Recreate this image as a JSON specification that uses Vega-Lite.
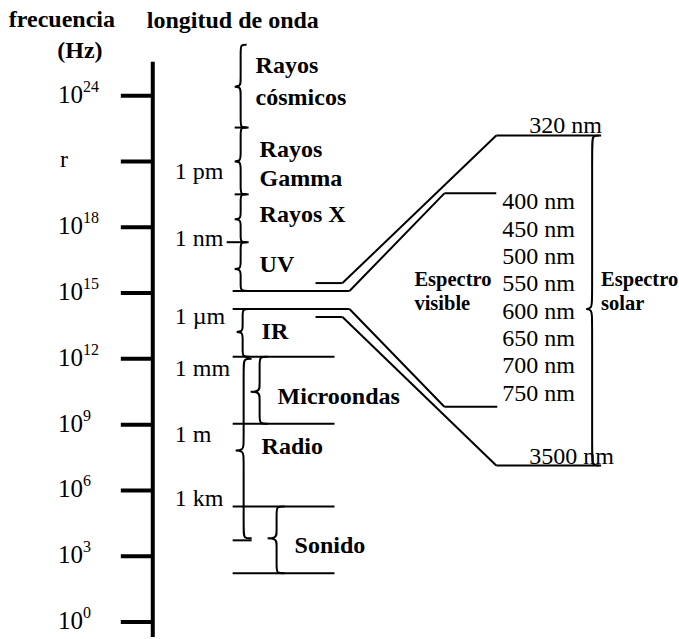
{
  "$schema": "https://vega.github.io/schema/vega-lite/v6.json",
  "width": 679,
  "height": 639,
  "padding": 0,
  "autosize": {"type": "fit", "contains": "padding"},
  "background": "white",
  "config": {"view": {"stroke": null}},
  "datasets": {
    "axisline": [
      {"x": 153, "y": 25.545, "x2": 153, "y2": -0.68}
    ],
    "ticks": [
      {"exp": 24, "x": 121, "x2": 153},
      {"exp": 21, "x": 121, "x2": 153},
      {"exp": 18, "x": 121, "x2": 153},
      {"exp": 15, "x": 121, "x2": 153},
      {"exp": 12, "x": 121, "x2": 153},
      {"exp": 9, "x": 121, "x2": 153},
      {"exp": 6, "x": 121, "x2": 153},
      {"exp": 3, "x": 121, "x2": 153},
      {"exp": 0, "x": 121, "x2": 153}
    ],
    "freqlabels": [
      {"exp": 24, "base": "10", "sup": "24"},
      {"exp": 18, "base": "10", "sup": "18"},
      {"exp": 15, "base": "10", "sup": "15"},
      {"exp": 12, "base": "10", "sup": "12"},
      {"exp": 9, "base": "10", "sup": "9"},
      {"exp": 6, "base": "10", "sup": "6"},
      {"exp": 3, "base": "10", "sup": "3"},
      {"exp": 0, "base": "10", "sup": "0"}
    ],
    "segments": [
      {"x": 233, "y": 15.091, "x2": 350, "y2": 15.091},
      {"x": 233, "y": 14.273, "x2": 350, "y2": 14.273},
      {"x": 233, "y": 12.091, "x2": 335, "y2": 12.091},
      {"x": 233, "y": 9.045, "x2": 335, "y2": 9.045},
      {"x": 233, "y": 5.273, "x2": 335, "y2": 5.273},
      {"x": 233, "y": 3.727, "x2": 252, "y2": 3.727},
      {"x": 233, "y": 2.227, "x2": 335, "y2": 2.227},
      {"x": 235, "y": 22.545, "x2": 249, "y2": 22.545},
      {"x": 235, "y": 19.5, "x2": 249, "y2": 19.5},
      {"x": 227, "y": 17.318, "x2": 249, "y2": 17.318},
      {"x": 497, "y": 22.182, "x2": 602, "y2": 22.182},
      {"x": 497, "y": 22.182, "x2": 343, "y2": 15.455},
      {"x": 316, "y": 15.455, "x2": 343, "y2": 15.455},
      {"x": 445, "y": 19.545, "x2": 497, "y2": 19.545},
      {"x": 350, "y": 15.091, "x2": 445, "y2": 19.545},
      {"x": 316, "y": 13.909, "x2": 343, "y2": 13.909},
      {"x": 343, "y": 13.909, "x2": 497, "y2": 7.136},
      {"x": 497, "y": 7.136, "x2": 602, "y2": 7.136},
      {"x": 350, "y": 14.273, "x2": 445, "y2": 9.818},
      {"x": 445, "y": 9.818, "x2": 498, "y2": 9.818}
    ],
    "braces": [
      {"b": "cos", "i": 0, "x": 247, "y": 26.318},
      {"b": "cos", "i": 1, "x": 241, "y": 26.318},
      {"b": "cos", "i": 2, "x": 241, "y": 26.045},
      {"b": "cos", "i": 3, "x": 241, "y": 24.682},
      {"b": "cos", "i": 4, "x": 241, "y": 24.409},
      {"b": "cos", "i": 5, "x": 232, "y": 24.409},
      {"b": "cos", "i": 6, "x": 241, "y": 24.409},
      {"b": "cos", "i": 7, "x": 241, "y": 24.136},
      {"b": "cos", "i": 8, "x": 241, "y": 22.818},
      {"b": "cos", "i": 9, "x": 241, "y": 22.545},
      {"b": "cos", "i": 10, "x": 247, "y": 22.545},

      {"b": "gam", "i": 0, "x": 247, "y": 22.545},
      {"b": "gam", "i": 1, "x": 241, "y": 22.545},
      {"b": "gam", "i": 2, "x": 241, "y": 22.273},
      {"b": "gam", "i": 3, "x": 241, "y": 21.273},
      {"b": "gam", "i": 4, "x": 241, "y": 21.0},
      {"b": "gam", "i": 5, "x": 232, "y": 21.0},
      {"b": "gam", "i": 6, "x": 241, "y": 21.0},
      {"b": "gam", "i": 7, "x": 241, "y": 20.727},
      {"b": "gam", "i": 8, "x": 241, "y": 19.773},
      {"b": "gam", "i": 9, "x": 241, "y": 19.5},
      {"b": "gam", "i": 10, "x": 247, "y": 19.5},

      {"b": "xr", "i": 0, "x": 247, "y": 19.5},
      {"b": "xr", "i": 1, "x": 241, "y": 19.5},
      {"b": "xr", "i": 2, "x": 241, "y": 19.227},
      {"b": "xr", "i": 3, "x": 241, "y": 18.636},
      {"b": "xr", "i": 4, "x": 241, "y": 18.364},
      {"b": "xr", "i": 5, "x": 232, "y": 18.364},
      {"b": "xr", "i": 6, "x": 241, "y": 18.364},
      {"b": "xr", "i": 7, "x": 241, "y": 18.091},
      {"b": "xr", "i": 8, "x": 241, "y": 17.591},
      {"b": "xr", "i": 9, "x": 241, "y": 17.318},
      {"b": "xr", "i": 10, "x": 247, "y": 17.318},

      {"b": "uv", "i": 0, "x": 247, "y": 17.318},
      {"b": "uv", "i": 1, "x": 241, "y": 17.318},
      {"b": "uv", "i": 2, "x": 241, "y": 17.045},
      {"b": "uv", "i": 3, "x": 241, "y": 16.364},
      {"b": "uv", "i": 4, "x": 241, "y": 16.091},
      {"b": "uv", "i": 5, "x": 232, "y": 16.091},
      {"b": "uv", "i": 6, "x": 241, "y": 16.091},
      {"b": "uv", "i": 7, "x": 241, "y": 15.818},
      {"b": "uv", "i": 8, "x": 241, "y": 15.364},
      {"b": "uv", "i": 9, "x": 241, "y": 15.091},
      {"b": "uv", "i": 10, "x": 250, "y": 15.091},

      {"b": "ir", "i": 0, "x": 250, "y": 14.273},
      {"b": "ir", "i": 1, "x": 243, "y": 14.273},
      {"b": "ir", "i": 2, "x": 243, "y": 14.0},
      {"b": "ir", "i": 3, "x": 243, "y": 13.5},
      {"b": "ir", "i": 4, "x": 243, "y": 13.227},
      {"b": "ir", "i": 5, "x": 234, "y": 13.227},
      {"b": "ir", "i": 6, "x": 243, "y": 13.227},
      {"b": "ir", "i": 7, "x": 243, "y": 12.955},
      {"b": "ir", "i": 8, "x": 243, "y": 12.364},
      {"b": "ir", "i": 9, "x": 243, "y": 12.091},
      {"b": "ir", "i": 10, "x": 250, "y": 12.091},

      {"b": "mic", "i": 0, "x": 268, "y": 12.091},
      {"b": "mic", "i": 1, "x": 260, "y": 12.091},
      {"b": "mic", "i": 2, "x": 260, "y": 11.818},
      {"b": "mic", "i": 3, "x": 260, "y": 10.773},
      {"b": "mic", "i": 4, "x": 260, "y": 10.5},
      {"b": "mic", "i": 5, "x": 246.5, "y": 10.5},
      {"b": "mic", "i": 6, "x": 260, "y": 10.5},
      {"b": "mic", "i": 7, "x": 260, "y": 10.227},
      {"b": "mic", "i": 8, "x": 260, "y": 9.318},
      {"b": "mic", "i": 9, "x": 260, "y": 9.045},
      {"b": "mic", "i": 10, "x": 268, "y": 9.045},

      {"b": "rad", "i": 0, "x": 252, "y": 12.0},
      {"b": "rad", "i": 1, "x": 244, "y": 12.0},
      {"b": "rad", "i": 2, "x": 244, "y": 11.682},
      {"b": "rad", "i": 3, "x": 244, "y": 8.136},
      {"b": "rad", "i": 4, "x": 244, "y": 7.818},
      {"b": "rad", "i": 5, "x": 232, "y": 7.818},
      {"b": "rad", "i": 6, "x": 244, "y": 7.818},
      {"b": "rad", "i": 7, "x": 244, "y": 7.5},
      {"b": "rad", "i": 8, "x": 244, "y": 4.136},
      {"b": "rad", "i": 9, "x": 244, "y": 3.818},
      {"b": "rad", "i": 10, "x": 252, "y": 3.818},

      {"b": "son", "i": 0, "x": 285, "y": 5.273},
      {"b": "son", "i": 1, "x": 277, "y": 5.273},
      {"b": "son", "i": 2, "x": 277, "y": 5.0},
      {"b": "son", "i": 3, "x": 277, "y": 4.091},
      {"b": "son", "i": 4, "x": 277, "y": 3.818},
      {"b": "son", "i": 5, "x": 263.5, "y": 3.818},
      {"b": "son", "i": 6, "x": 277, "y": 3.818},
      {"b": "son", "i": 7, "x": 277, "y": 3.545},
      {"b": "son", "i": 8, "x": 277, "y": 2.5},
      {"b": "son", "i": 9, "x": 277, "y": 2.227},
      {"b": "son", "i": 10, "x": 285, "y": 2.227},

      {"b": "sol", "i": 0, "x": 600, "y": 22.182},
      {"b": "sol", "i": 1, "x": 593, "y": 22.182},
      {"b": "sol", "i": 2, "x": 593, "y": 21.727},
      {"b": "sol", "i": 3, "x": 593, "y": 14.727},
      {"b": "sol", "i": 4, "x": 593, "y": 14.273},
      {"b": "sol", "i": 5, "x": 584, "y": 14.273},
      {"b": "sol", "i": 6, "x": 593, "y": 14.273},
      {"b": "sol", "i": 7, "x": 593, "y": 13.818},
      {"b": "sol", "i": 8, "x": 593, "y": 7.591},
      {"b": "sol", "i": 9, "x": 593, "y": 7.136},
      {"b": "sol", "i": 10, "x": 600, "y": 7.136}
    ],
    "regular": [
      {"t": "r", "x": 60, "y": 20.727},
      {"t": "1 pm", "x": 175, "y": 20.182},
      {"t": "1 nm", "x": 175, "y": 17.136},
      {"t": "1 µm", "x": 175, "y": 13.591},
      {"t": "1 mm", "x": 175, "y": 11.227},
      {"t": "1 m", "x": 175, "y": 8.227},
      {"t": "1 km", "x": 175, "y": 5.273},
      {"t": "320 nm", "x": 530, "y": 22.318},
      {"t": "400 nm", "x": 503, "y": 18.818},
      {"t": "450 nm", "x": 503, "y": 17.573},
      {"t": "500 nm", "x": 503, "y": 16.327},
      {"t": "550 nm", "x": 503, "y": 15.082},
      {"t": "600 nm", "x": 503, "y": 13.836},
      {"t": "650 nm", "x": 503, "y": 12.591},
      {"t": "700 nm", "x": 503, "y": 11.345},
      {"t": "750 nm", "x": 503, "y": 10.1},
      {"t": "3500 nm", "x": 530, "y": 7.227}
    ],
    "headers": [
      {"t": "frecuencia", "x": 62, "y": 27.136},
      {"t": "(Hz)", "x": 80, "y": 25.727}
    ],
    "bold": [
      {"t": "longitud de onda", "x": 147, "y": 27.091},
      {"t": "Rayos", "x": 256, "y": 25.045},
      {"t": "cósmicos", "x": 256, "y": 23.591},
      {"t": "Rayos", "x": 260, "y": 21.182},
      {"t": "Gamma", "x": 260, "y": 19.864},
      {"t": "Rayos X", "x": 260, "y": 18.227},
      {"t": "UV", "x": 260, "y": 15.955},
      {"t": "IR", "x": 262, "y": 12.909},
      {"t": "Microondas", "x": 278, "y": 9.955},
      {"t": "Radio", "x": 262, "y": 7.682},
      {"t": "Sonido", "x": 295, "y": 3.136}
    ],
    "smallbold": [
      {"t": "Espectro", "x": 415, "y": 15.318},
      {"t": "visible", "x": 415, "y": 14.227},
      {"t": "Espectro", "x": 602, "y": 15.318},
      {"t": "solar", "x": 602, "y": 14.227}
    ]
  },
  "layer": [
    {
      "data": {"name": "axisline"},
      "mark": {"type": "rule", "strokeWidth": 4, "color": "black"},
      "encoding": {
        "x": {"field": "x", "type": "quantitative", "scale": {"domain": [0, 679], "nice": false, "zero": false}, "axis": null},
        "y": {"field": "y", "type": "quantitative", "scale": {"domain": [-0.68, 28.36], "nice": false, "zero": false}, "axis": null},
        "x2": {"field": "x2"},
        "y2": {"field": "y2"}
      }
    },
    {
      "data": {"name": "ticks"},
      "mark": {"type": "rule", "strokeWidth": 4, "color": "black"},
      "encoding": {
        "x": {"field": "x", "type": "quantitative"},
        "x2": {"field": "x2"},
        "y": {"field": "exp", "type": "quantitative"}
      }
    },
    {
      "data": {"name": "segments"},
      "mark": {"type": "rule", "strokeWidth": 2, "color": "black"},
      "encoding": {
        "x": {"field": "x", "type": "quantitative"},
        "y": {"field": "y", "type": "quantitative"},
        "x2": {"field": "x2"},
        "y2": {"field": "y2"}
      }
    },
    {
      "data": {"name": "braces"},
      "mark": {"type": "line", "interpolate": "basis", "strokeWidth": 2, "color": "black"},
      "encoding": {
        "x": {"field": "x", "type": "quantitative"},
        "y": {"field": "y", "type": "quantitative"},
        "detail": {"field": "b", "type": "nominal"},
        "order": {"field": "i", "type": "quantitative"}
      }
    },
    {
      "data": {"name": "freqlabels"},
      "mark": {"type": "text", "font": "Liberation Serif", "fontSize": 25, "align": "left", "baseline": "alphabetic", "dy": 7, "color": "black"},
      "encoding": {
        "x": {"datum": 58, "type": "quantitative"},
        "y": {"field": "exp", "type": "quantitative"},
        "text": {"field": "base"}
      }
    },
    {
      "data": {"name": "freqlabels"},
      "mark": {"type": "text", "font": "Liberation Serif", "fontSize": 16, "align": "left", "baseline": "alphabetic", "dy": -4, "color": "black"},
      "encoding": {
        "x": {"datum": 83, "type": "quantitative"},
        "y": {"field": "exp", "type": "quantitative"},
        "text": {"field": "sup"}
      }
    },
    {
      "data": {"name": "regular"},
      "mark": {"type": "text", "font": "Liberation Serif", "fontSize": 24, "align": "left", "baseline": "alphabetic", "color": "black"},
      "encoding": {
        "x": {"field": "x", "type": "quantitative"},
        "y": {"field": "y", "type": "quantitative"},
        "text": {"field": "t"}
      }
    },
    {
      "data": {"name": "headers"},
      "mark": {"type": "text", "font": "Liberation Serif", "fontSize": 24, "fontWeight": "bold", "align": "center", "baseline": "alphabetic", "color": "black"},
      "encoding": {
        "x": {"field": "x", "type": "quantitative"},
        "y": {"field": "y", "type": "quantitative"},
        "text": {"field": "t"}
      }
    },
    {
      "data": {"name": "bold"},
      "mark": {"type": "text", "font": "Liberation Serif", "fontSize": 24, "fontWeight": "bold", "align": "left", "baseline": "alphabetic", "color": "black"},
      "encoding": {
        "x": {"field": "x", "type": "quantitative"},
        "y": {"field": "y", "type": "quantitative"},
        "text": {"field": "t"}
      }
    },
    {
      "data": {"name": "smallbold"},
      "mark": {"type": "text", "font": "Liberation Serif", "fontSize": 20.5, "fontWeight": "bold", "align": "left", "baseline": "alphabetic", "color": "black"},
      "encoding": {
        "x": {"field": "x", "type": "quantitative"},
        "y": {"field": "y", "type": "quantitative"},
        "text": {"field": "t"}
      }
    }
  ]
}
